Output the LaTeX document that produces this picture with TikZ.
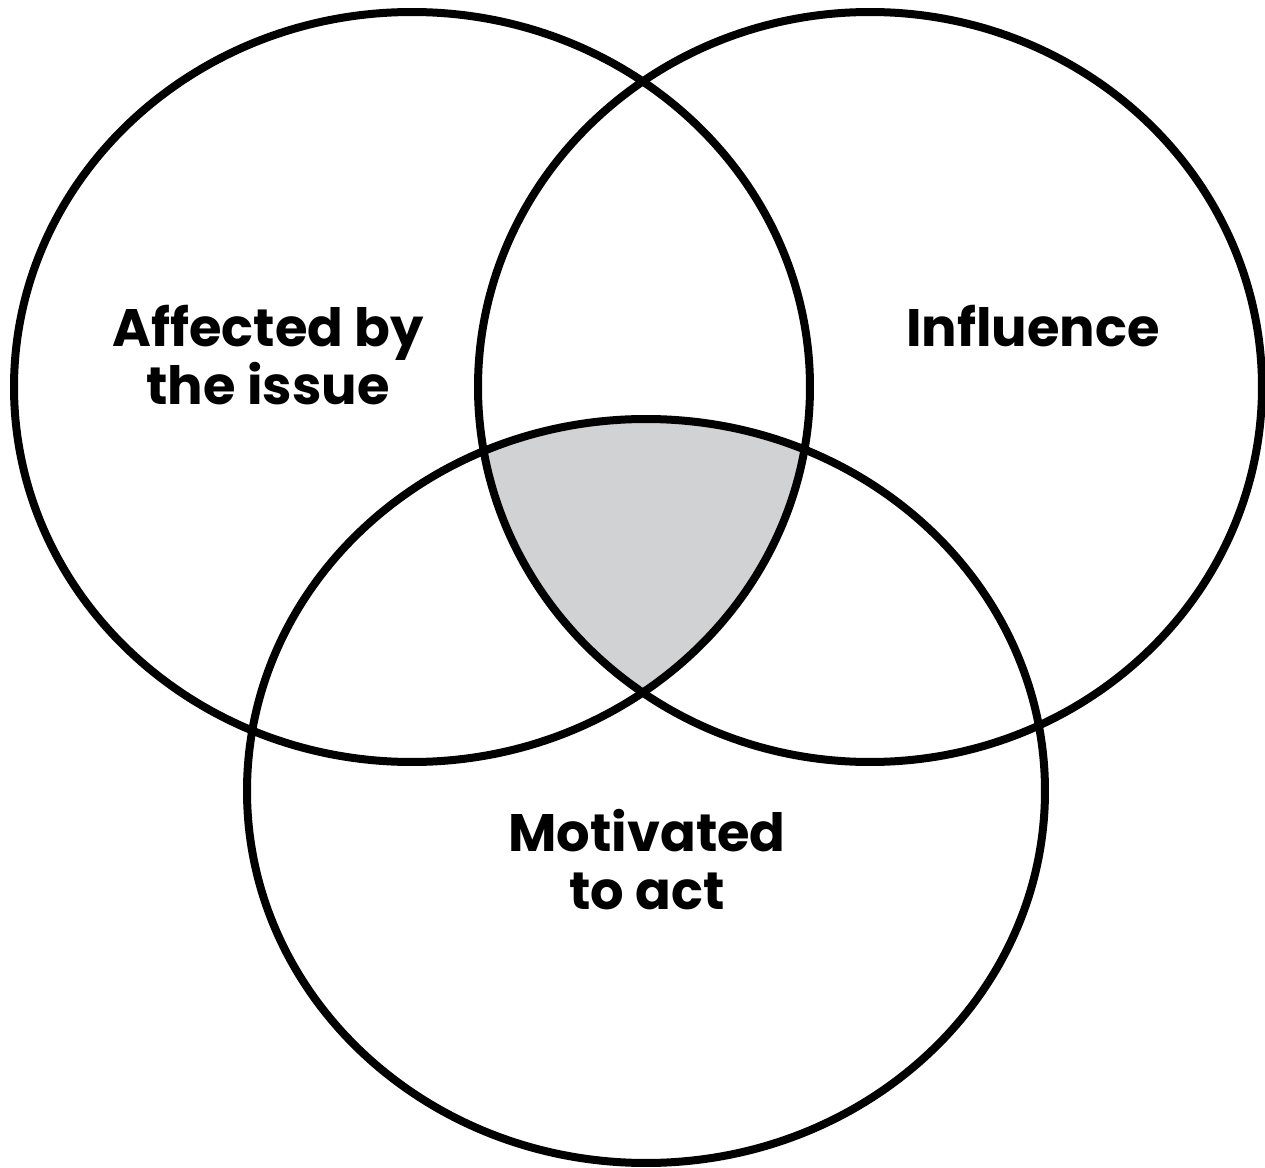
\documentclass[tikz,border=0pt]{standalone}
\usepackage{fontspec}
\setmainfont{Poppins}
\definecolor{coregray}{HTML}{D1D2D4}
\begin{document}
\begin{tikzpicture}[
        x=0.1mm, y=-0.1mm,
        set/.style={draw=black, line width=0.8mm},
        setlabel/.style={font=\bfseries\fontsize{15}{16.5}\selectfont, align=center, inner sep=0pt}
    ]
        \useasboundingbox (0,0) rectangle (1265,1168);

        % Centres of the three sets
        \coordinate (affected) at (412,387);
        \coordinate (influence) at (870,387);
        \coordinate (motivated) at (646,791);

        % Shaded core where all three overlap
        \begin{scope}
            \clip (affected) ellipse [x radius=39.8mm, y radius=37.5mm];
            \clip (influence) ellipse [x radius=39.2mm, y radius=37.5mm];
            \fill[coregray] (motivated) ellipse [x radius=39.9mm, y radius=37.2mm];
        \end{scope}

        % Outlines (drawn last)
        \draw[set] (affected) ellipse [x radius=39.8mm, y radius=37.5mm];
        \draw[set] (influence) ellipse [x radius=39.2mm, y radius=37.5mm];
        \draw[set] (motivated) ellipse [x radius=39.9mm, y radius=37.2mm];

        % Labels
        \node[setlabel] (affectedlabel) at (268,355) {Affected by\\the issue};
        \node[setlabel] (influencelabel) at (1033,326) {Influence};
        \node[setlabel] (motivatedlabel) at (647,860) {Motivated\\to act};
    \end{tikzpicture}
\end{document}
